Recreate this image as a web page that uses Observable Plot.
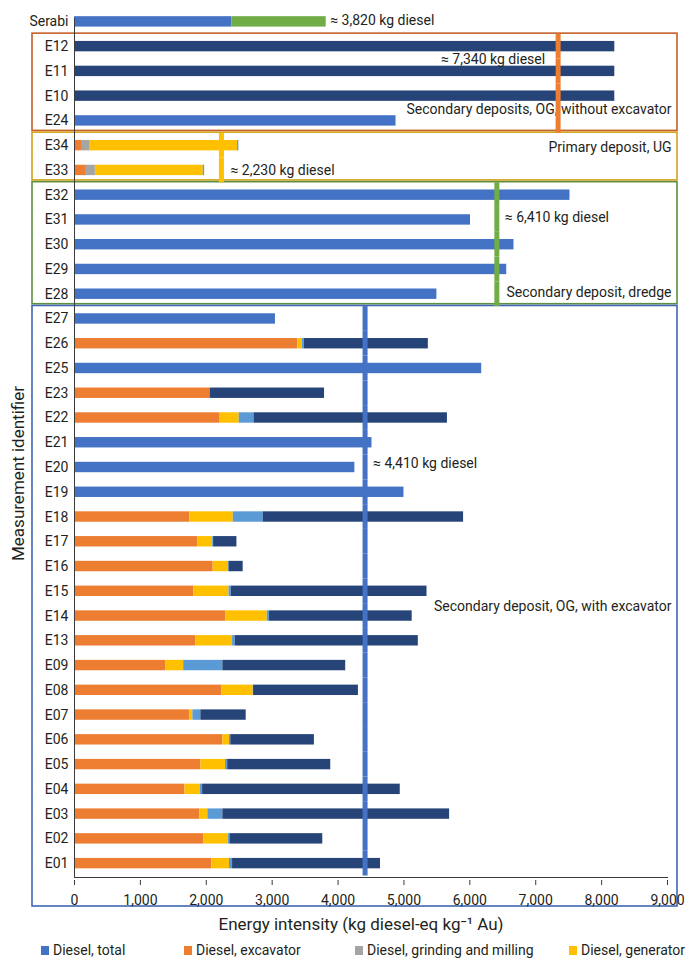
<!DOCTYPE html>
<html>
<head>
<meta charset="utf-8">
<script src="https://cdn.jsdelivr.net/npm/d3@7"></script>
<script src="https://cdn.jsdelivr.net/npm/@observablehq/plot@0.6"></script>
<style>
  body { margin: 0; background: #fff; font-family: Roboto, "Noto Sans", sans-serif; color: #231f20; }
  #wrap { position: relative; width: 686px; height: 958px; overflow: hidden; }
  #wrap svg { position: absolute; left: 0; top: 0; }
  .legend .item { position: absolute; top: 942px; height: 16px; line-height: 16px; display: flex; align-items: center; white-space: nowrap; font-size: 14px; }
  .legend .sw { width: 8px; height: 9px; margin-right: 4px; }
</style>
</head>
<body>
<div id="wrap"></div>
<script>
// Measurement identifiers, top to bottom
const ids = ["Serabi", "E12", "E11", "E10", "E24", "E34", "E33", "E32", "E31", "E30", "E29", "E28",
  "E27", "E26", "E25", "E23", "E22", "E21", "E20", "E19", "E18", "E17", "E16", "E15", "E14", "E13",
  "E09", "E08", "E07", "E06", "E05", "E04", "E03", "E02", "E01"];

// Energy intensity per component (kg diesel-eq per kg Au), aligned with ids
const dieselTotal = [2390, 0, 0, 0, 4880, 0, 0, 7520, 6010, 6670, 6560, 5500,
  3050, 0, 6180, 0, 0, 4515, 4255, 5000, 0, 0, 0, 0, 0, 0, 0, 0, 0, 0, 0, 0, 0, 0, 0];
const dieselExcavator = [0, 0, 0, 0, 0, 106, 180, 0, 0, 0, 0, 0,
  0, 3390, 0, 2060, 2210, 0, 0, 0, 1750, 1870, 2105, 1810, 2298, 1844,
  1383, 2238, 1750, 2252, 1918, 1677, 1904, 1964, 2085];
const dieselGrinding = [0, 0, 0, 0, 0, 122, 137, 0, 0, 0, 0, 0,
  0, 0, 0, 0, 0, 0, 0, 0, 0, 0, 0, 0, 0, 0, 0, 0, 0, 0, 0, 0, 0, 0, 0];
const dieselGenerator = [0, 0, 0, 0, 0, 2247, 1638, 0, 0, 0, 0, 0,
  0, 70, 0, 0, 290, 0, 0, 0, 660, 228, 233, 535, 628, 555,
  274, 475, 47, 100, 374, 234, 120, 374, 267];
const dieselPump = [0, 0, 0, 0, 0, 20, 20, 0, 0, 0, 0, 0,
  0, 28, 0, 0, 225, 0, 0, 0, 455, 13, 7, 34, 34, 40,
  595, 5, 121, 20, 33, 33, 228, 21, 47];
const dieselOther = [0, 8200, 8200, 8200, 0, 0, 0, 0, 0, 0, 0, 0,
  0, 1882, 0, 1735, 2935, 0, 0, 0, 3040, 354, 215, 2971, 2165, 2779,
  1864, 1591, 688, 1269, 1564, 3000, 3441, 1409, 2245];
const serabiRest = [1430, 0, 0, 0, 0, 0, 0, 0, 0, 0, 0, 0,
  0, 0, 0, 0, 0, 0, 0, 0, 0, 0, 0, 0, 0, 0, 0, 0, 0, 0, 0, 0, 0, 0, 0];

const seriesNames = ["Diesel, total", "Diesel, excavator", "Diesel, grinding and milling",
  "Diesel, generator", "Diesel, pump", "Diesel, other", "Serabi, rest"];
const seriesColors = ["#4472c4", "#ed7d31", "#a5a5a5", "#ffc000", "#5b9bd5", "#264478", "#70ad47"];
const seriesValues = [dieselTotal, dieselExcavator, dieselGrinding, dieselGenerator, dieselPump, dieselOther, serabiRest];

// Deposit groups, their members and average diesel use
const groupNames = ["Secondary deposits, OG, without excavator", "Primary deposit, UG",
  "Secondary deposit, dredge", "Secondary deposit, OG, with excavator"];
const groupMembers = [
  ["E12", "E11", "E10", "E24"],
  ["E34", "E33"],
  ["E32", "E31", "E30", "E29", "E28"],
  ["E27", "E26", "E25", "E23", "E22", "E21", "E20", "E19", "E18", "E17", "E16", "E15", "E14", "E13",
   "E09", "E08", "E07", "E06", "E05", "E04", "E03", "E02", "E01"]
];
const groupMeans = [7340, 2230, 6410, 4410];
const serabiTotal = 3820;

const xTicks = [0, 1000, 2000, 3000, 4000, 5000, 6000, 7000, 8000, 9000];
const legendNames = ["Diesel, total", "Diesel, excavator", "Diesel, grinding and milling", "Diesel, generator"];

// long table for the stacked bars
const rows = [];
ids.forEach((id, i) => {
  seriesNames.forEach((s, k) => {
    const v = seriesValues[k][i];
    if (v > 0) rows.push({id, series: s, value: v});
  });
});

const lineColors = ["#ed7d31", "#ffc000", "#70ad47", "#4472c4"];
const boxColors = ["#c5602b", "#d1a21a", "#5e8e3e", "#3f67b1"];
const ink = "#231f20";
const fmt = d3.format(",");

// y band geometry (range 9..875.5, 35 rows)
const step = 866.5 / 35, bw = step * 0.42, gap = (step - bw) / 2;

// each group's average line, drawn as a tick through every member row
const lineMarks = groupMembers.map((members, g) =>
  Plot.tickX(members.map(id => ({id, value: groupMeans[g]})), {
    x: "value", y: "id", stroke: lineColors[g], strokeWidth: 5,
    insetTop: -gap, insetBottom: -gap
  })
);

const label = d => `≈ ${fmt(d.v)} kg diesel`;
const annot = [
  Plot.text([{id: "Serabi", v: serabiTotal}], {x: "v", y: "id", text: label, textAnchor: "start", dx: 4, dy: -1}),
  Plot.text([{id: "E11", v: groupMeans[0]}], {x: "v", y: "id", text: label, textAnchor: "end", dx: -13, dy: -12}),
  Plot.text([{id: "E24", v: 9000}], {x: "v", y: "id", text: () => groupNames[0], textAnchor: "end", dx: 4, dy: -11}),
  Plot.text([{id: "E34", v: 9000}], {x: "v", y: "id", text: () => groupNames[1], textAnchor: "end", dx: 4, dy: 2}),
  Plot.text([{id: "E33", v: groupMeans[1]}], {x: "v", y: "id", text: label, textAnchor: "start", dx: 9}),
  Plot.text([{id: "E31", v: groupMeans[2]}], {x: "v", y: "id", text: label, textAnchor: "start", dx: 8, dy: -2}),
  Plot.text([{id: "E28", v: 9000}], {x: "v", y: "id", text: () => groupNames[2], textAnchor: "end", dx: 4, dy: -2}),
  Plot.text([{id: "E20", v: groupMeans[3]}], {x: "v", y: "id", text: label, textAnchor: "start", dx: 8, dy: -4}),
  Plot.text([{id: "E14", v: 9000}], {x: "v", y: "id", text: () => groupNames[3], textAnchor: "end", dx: 4, dy: -10})
];
annot.forEach(m => { m.fill = ink; });

const plot = Plot.plot({
  width: 686,
  height: 935,
  marginLeft: 74,
  marginRight: 19,
  marginTop: 9,
  marginBottom: 58,
  style: {fontFamily: "Roboto, 'Noto Sans', sans-serif", fontSize: "14px", color: ink, background: "transparent"},
  x: {domain: [0, 9000]},
  y: {domain: ids, range: [9, 875.5], paddingInner: 0.58, paddingOuter: 0.29, round: false},
  color: {domain: seriesNames, range: seriesColors},
  marks: [
    Plot.barX(rows, Plot.stackX({x: "value", y: "id", fill: "series", order: seriesNames})),
    Plot.ruleX([0], {stroke: "#3b3b3b", strokeWidth: 1, insetTop: 9}),
    Plot.frame({anchor: "bottom", stroke: "#3b3b3b", strokeWidth: 1}),
    Plot.axisX({ticks: xTicks, tickFormat: fmt, tickSize: 5, tickPadding: 10, dy: 3, fontSize: 14, label: null, stroke: "#3b3b3b", color: ink}),
    Plot.axisY({tickSize: 0, tickPadding: 6, fontSize: 14, label: null, color: ink}),
    ...annot,
    ...lineMarks,
    Plot.text(["Energy intensity (kg diesel-eq kg⁻¹ Au)"], {frameAnchor: "bottom", lineAnchor: "middle", textAnchor: "middle", dy: 47, dx: -10, fontSize: 17, fill: ink}),
    Plot.text(["Measurement identifier"], {frameAnchor: "left", rotate: -90, textAnchor: "middle", lineAnchor: "middle", dx: -56, dy: 30, fontSize: 17, fill: ink})
  ]
});

// group outlines drawn from the plot's own scales
const ys = plot.scale("y"), xs = plot.scale("x");
const svg = d3.select(plot);
const left = xs.apply(0) - 42, right = xs.apply(9000) + 10;
const boxG = svg.insert("g", ":first-child").attr("fill", "none").attr("stroke-width", 1.6);
const outerBottom = 906; // the last outline also encloses the x axis and its tick labels
groupMembers.forEach((members, g) => {
  const top = ys.apply(members[0]) + ys.bandwidth / 2 - 13;
  const lastCenter = ys.apply(members[members.length - 1]) + ys.bandwidth / 2;
  const bottom = g === groupMembers.length - 1 ? outerBottom : lastCenter + 10;
  boxG.append("rect").attr("x", left).attr("y", top).attr("width", right - left).attr("height", bottom - top)
    .attr("stroke", boxColors[g]);
});

const wrap = document.getElementById("wrap");
wrap.appendChild(plot);

// legend row under the chart
const legend = d3.select(wrap).append("div").attr("class", "legend");
const legendLeft = [41, 184, 355, 569];
legendNames.forEach((name, i) => {
  const item = legend.append("div").attr("class", "item").style("left", legendLeft[i] + "px");
  item.append("div").attr("class", "sw").style("background", seriesColors[seriesNames.indexOf(name)]);
  item.append("span").text(name);
});
</script>
</body>
</html>
